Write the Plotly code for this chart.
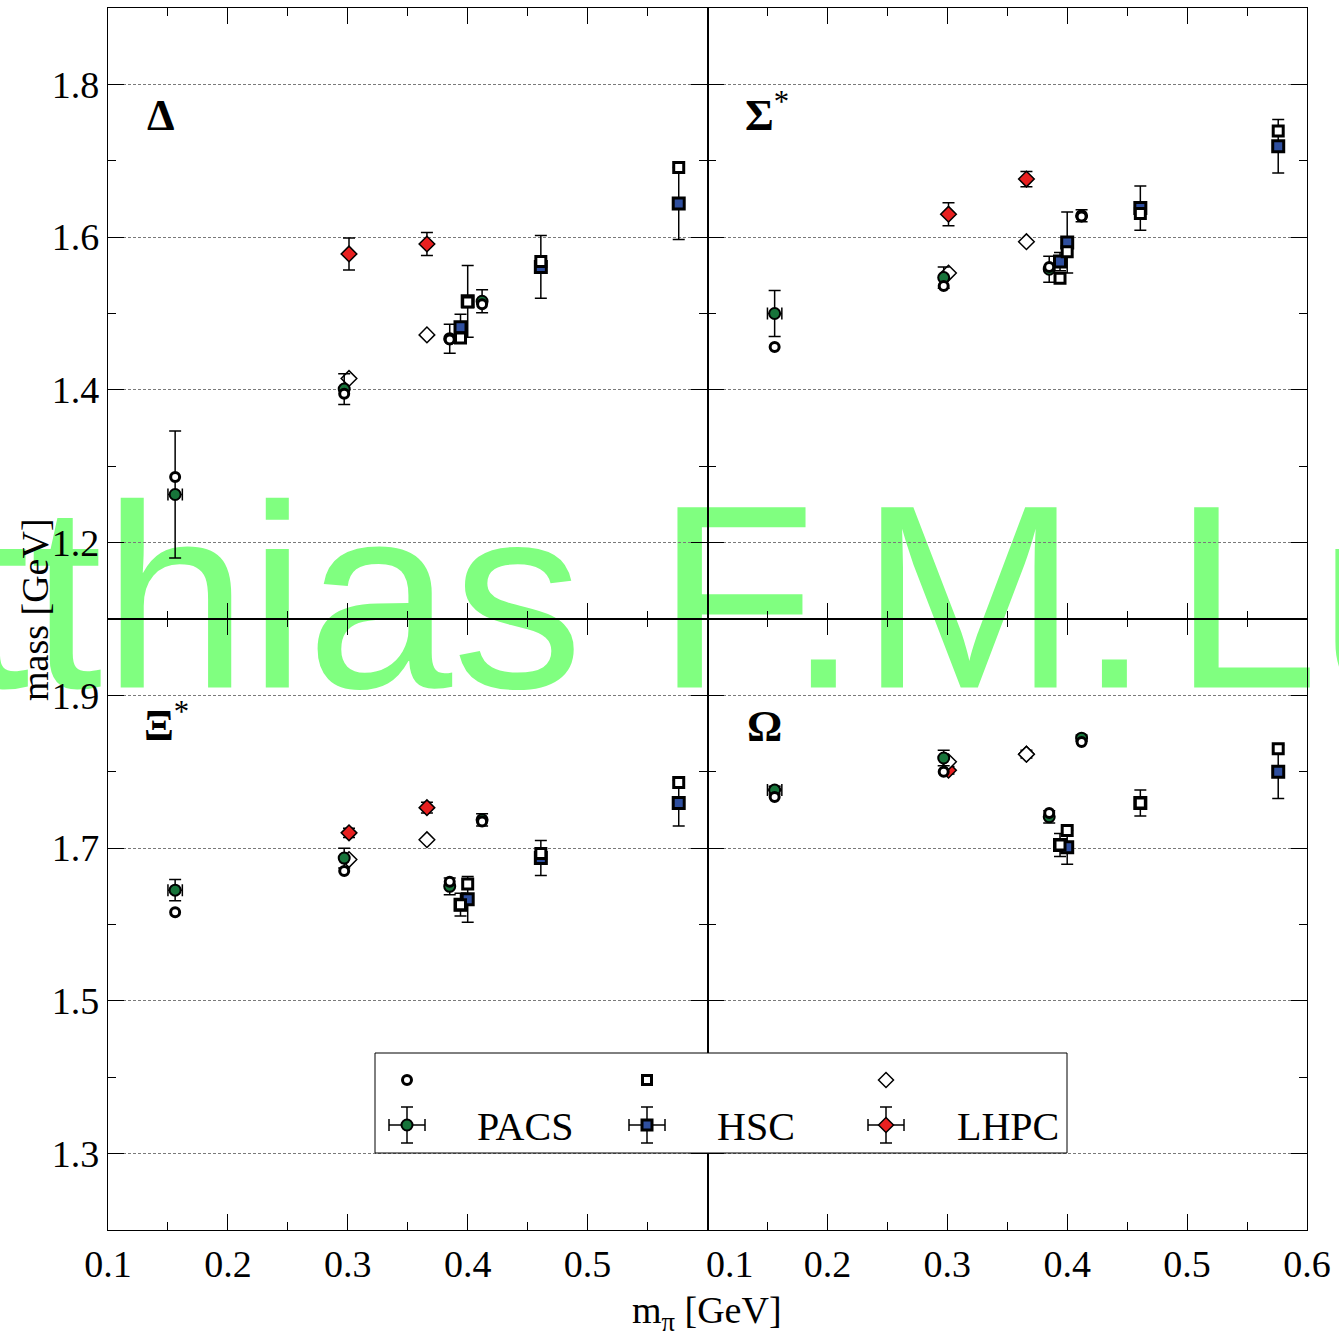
import plotly.graph_objects as go

# ---------------- data ----------------
pacs_m = [0.156, 0.297, 0.385, 0.412]
pacs_m_err = [0.006, None, None, None]
hsc_m = [0.394, 0.400, 0.461, 0.576]
lhpc_m = [0.301, 0.366]

# Delta
delta_pacs = [1.263, 1.401, 1.467, 1.516]
delta_pacs_err = [0.083, 0.020, 0.019, 0.015]
delta_pacs_fit = [1.286, 1.395, 1.466, 1.512]
delta_hsc = [1.482, 1.516, 1.561, 1.644]
delta_hsc_err = [0.017, 0.047, 0.041, 0.047]
delta_hsc_fit = [1.468, 1.515, 1.568, 1.691]
delta_lhpc = [1.578, 1.591]
delta_lhpc_err = [0.021, 0.015]
delta_lhpc_fit = [1.415, 1.472]

# Sigma*
sigma_pacs = [1.500, 1.547, 1.558, 1.628]
sigma_pacs_err = [0.030, 0.014, 0.017, 0.008]
sigma_pacs_fit = [1.456, 1.536, 1.561, 1.627]
sigma_hsc = [1.568, 1.593, 1.638, 1.719]
sigma_hsc_err = [0.012, 0.040, 0.029, 0.035]
sigma_hsc_fit = [1.546, 1.581, 1.631, 1.739]
sigma_lhpc = [1.630, 1.676]
sigma_lhpc_err = [0.015, 0.010]
sigma_lhpc_fit = [1.553, 1.594]

# Xi*
xi_pacs = [1.645, 1.687, 1.650, 1.737]
xi_pacs_err = [0.014, 0.013, 0.011, 0.008]
xi_pacs_fit = [1.616, 1.670, 1.656, 1.735]
xi_hsc = [1.626, 1.633, 1.687, 1.759]
xi_hsc_err = [0.015, 0.030, 0.023, 0.030]
xi_hsc_fit = [1.626, 1.653, 1.693, 1.786]
xi_lhpc = [1.720, 1.753]
xi_lhpc_err = [0.006, 0.007]
xi_lhpc_fit = [1.685, 1.711]

# Omega
omega_pacs = [1.776, 1.818, 1.741, 1.844]
omega_pacs_err = [0.005, 0.010, 0.008, 0.004]
omega_pacs_fit = [1.767, 1.800, 1.746, 1.839]
omega_hsc = [1.704, 1.701, 1.759, 1.800]
omega_hsc_err = [0.015, 0.022, 0.017, 0.035]
omega_hsc_fit = [1.704, 1.723, 1.759, 1.830]
omega_lhpc = [1.802, 1.823]
omega_lhpc_err = [0.005, 0.005]
omega_lhpc_fit = [1.813, 1.823]

panel_labels = ["<b>Δ</b>", "<b>Σ</b><sup>*</sup>", "<b>Ξ</b><sup>*</sup>", "<b>Ω</b>"]
x_ticks_left = [0.1, 0.2, 0.3, 0.4, 0.5]
x_ticks_right = [0.2, 0.3, 0.4, 0.5, 0.6]
x_minor = [0.15, 0.25, 0.35, 0.45, 0.55]
legend_names = ["PACS", "HSC", "LHPC"]
watermark = "Matthias F.M.\u200aLutz"

# ---------------- style ----------------
SERIF = "Liberation Serif"
GREEN = "#17743a"
BLUE = "#2f4f9f"
RED = "#e82020"

W, H = 1339, 1337
L, R, T, B = 108, 32, 8, 107
PW, PH = W - L - R, H - T - B


def px(x):
    return (x - L) / PW


def py(y):
    return (H - B - y) / PH


fig = go.Figure()

panels = [
    ("x", "y", delta_pacs, delta_pacs_err, delta_pacs_fit, delta_hsc, delta_hsc_err, delta_hsc_fit,
     delta_lhpc, delta_lhpc_err, delta_lhpc_fit),
    ("x2", "y2", sigma_pacs, sigma_pacs_err, sigma_pacs_fit, sigma_hsc, sigma_hsc_err, sigma_hsc_fit,
     sigma_lhpc, sigma_lhpc_err, sigma_lhpc_fit),
    ("x3", "y3", xi_pacs, xi_pacs_err, xi_pacs_fit, xi_hsc, xi_hsc_err, xi_hsc_fit,
     xi_lhpc, xi_lhpc_err, xi_lhpc_fit),
    ("x4", "y4", omega_pacs, omega_pacs_err, omega_pacs_fit, omega_hsc, omega_hsc_err, omega_hsc_fit,
     omega_lhpc, omega_lhpc_err, omega_lhpc_fit),
]


def err(arr):
    return dict(type="data", array=arr, color="black", thickness=1.5, width=6, visible=True)


for (xa, ya, p, pe, pf, h, he, hf, l, le, lf) in panels:
    # LHPC
    fig.add_trace(go.Scatter(x=lhpc_m, y=l, mode="markers", xaxis=xa, yaxis=ya, error_y=err(le),
                             marker=dict(symbol="diamond", size=12, color=RED, line=dict(color="black", width=1.5)),
                             showlegend=False))
    fig.add_trace(go.Scatter(x=lhpc_m, y=lf, mode="markers", xaxis=xa, yaxis=ya,
                             marker=dict(symbol="diamond", size=12, color="white", line=dict(color="black", width=1.5)),
                             showlegend=False))
    # PACS
    fig.add_trace(go.Scatter(x=pacs_m, y=p, mode="markers", xaxis=xa, yaxis=ya, error_y=err(pe),
                             error_x=err(pacs_m_err),
                             marker=dict(symbol="circle", size=11, color=GREEN, line=dict(color="black", width=2)),
                             showlegend=False))
    fig.add_trace(go.Scatter(x=pacs_m, y=pf, mode="markers", xaxis=xa, yaxis=ya,
                             marker=dict(symbol="circle", size=9, color="white", line=dict(color="black", width=3)),
                             showlegend=False))
    # HSC
    fig.add_trace(go.Scatter(x=hsc_m, y=h, mode="markers", xaxis=xa, yaxis=ya, error_y=err(he),
                             marker=dict(symbol="square", size=11, color=BLUE, line=dict(color="black", width=3)),
                             showlegend=False))
    fig.add_trace(go.Scatter(x=hsc_m, y=hf, mode="markers", xaxis=xa, yaxis=ya,
                             marker=dict(symbol="square", size=10, color="white", line=dict(color="black", width=3)),
                             showlegend=False))

tickfont = dict(family=SERIF, size=38, color="black")
LW = 1.2
common_x = dict(range=[0.1, 0.6], showline=True, linecolor="black", linewidth=LW, mirror="ticks",
                ticks="inside", ticklen=16, tickwidth=1.3, tickcolor="black", showgrid=False, zeroline=False,
                tickfont=tickfont,
                minor=dict(tickvals=x_minor, ticks="inside", ticklen=8, tickwidth=1.3, tickcolor="black",
                           showgrid=False))
common_y = dict(showline=True, linecolor="black", linewidth=LW, mirror="ticks",
                ticks="inside", ticklen=16, tickwidth=1.3, tickcolor="black", showgrid=True,
                gridcolor="#7a7a7a", gridwidth=1, griddash="3px,2px", zeroline=False, tickfont=tickfont,
                dtick=0.2, tickformat=".1f",
                minor=dict(dtick=0.1, ticks="inside", ticklen=8, tickwidth=1.3, tickcolor="black", showgrid=False))

fig.update_layout(
    width=W, height=H,
    margin=dict(l=L, r=R, t=T, b=B),
    paper_bgcolor="white", plot_bgcolor="white",
    showlegend=False,
    xaxis=dict(common_x, domain=[0, 0.5], anchor="y", tickvals=x_ticks_left, showticklabels=False),
    xaxis2=dict(common_x, domain=[0.5, 1], anchor="y2", tickvals=x_ticks_right, showticklabels=False),
    xaxis3=dict(common_x, domain=[0, 0.5], anchor="y3", tickvals=x_ticks_left, showticklabels=True),
    xaxis4=dict(common_x, domain=[0.5, 1], anchor="y4", tickvals=x_ticks_right, showticklabels=True),
    yaxis=dict(common_y, domain=[0.5, 1], anchor="x", range=[1.1, 1.9], tick0=1.2,
               minor=dict(common_y["minor"], tick0=1.1)),
    yaxis2=dict(common_y, domain=[0.5, 1], anchor="x2", range=[1.1, 1.9], tick0=1.2, showticklabels=False,
                minor=dict(common_y["minor"], tick0=1.1)),
    yaxis3=dict(common_y, domain=[0, 0.5], anchor="x3", range=[1.2, 2.0], tick0=1.3,
                minor=dict(common_y["minor"], tick0=1.2)),
    yaxis4=dict(common_y, domain=[0, 0.5], anchor="x4", range=[1.2, 2.0], tick0=1.3, showticklabels=False,
                minor=dict(common_y["minor"], tick0=1.2)),
)

shapes = []
annotations = []

# watermark (behind everything)
shapes.append(dict(type="rect", xref="paper", yref="paper", layer="below",
                   x0=px(-410), x1=px(1900), y0=py(612), y1=py(532),
                   line=dict(width=0), fillcolor="rgba(0,0,0,0)",
                   label=dict(text=watermark, textposition="middle left", padding=0,
                              font=dict(family="Liberation Sans", size=262, color="#80ff80"))))

# panel labels
for txt, (x, y) in zip(panel_labels, [(161, 116), (767, 112), (166, 722), (764, 726)]):
    annotations.append(dict(text=txt, xref="paper", yref="paper", x=px(x), y=py(y), showarrow=False,
                            xanchor="center", yanchor="middle",
                            font=dict(family=SERIF, size=44, color="black")))

# axis titles
annotations.append(dict(text="mass [GeV]", xref="paper", yref="paper", x=px(35), y=py(610), textangle=-90,
                        showarrow=False, xanchor="center", yanchor="middle",
                        font=dict(family=SERIF, size=38, color="black")))
annotations.append(dict(text="m<sub>π</sub> [GeV]", xref="paper", yref="paper", x=px(707), y=py(1313),
                        showarrow=False, xanchor="center", yanchor="middle",
                        font=dict(family=SERIF, size=38, color="black")))
# shifted 0.1 label of right panel
annotations.append(dict(text="0.1", xref="paper", yref="paper", x=px(730), y=py(1264),
                        showarrow=False, xanchor="center", yanchor="middle", font=tickfont))

# legend box
shapes.append(dict(type="rect", xref="paper", yref="paper", layer="above",
                   x0=px(375), x1=px(1067), y0=py(1153), y1=py(1053),
                   line=dict(color="black", width=1), fillcolor="white"))

leg_x = [407, 647, 886]
leg_fill = [GREEN, BLUE, RED]
leg_text_x = [475, 715, 955]
y1r, y2r = 1080, 1125


def line(x0, y0, x1, y1, w=1.5):
    return dict(type="line", xref="paper", yref="paper", layer="above",
                x0=px(x0), y0=py(y0), x1=px(x1), y1=py(y1), line=dict(color="black", width=w))


for i, cx in enumerate(leg_x):
    # open symbol (row 1)
    if i == 0:
        shapes.append(dict(type="circle", xref="paper", yref="paper", layer="above",
                           x0=px(cx - 4.5), x1=px(cx + 4.5), y0=py(y1r + 4.5), y1=py(y1r - 4.5),
                           line=dict(color="black", width=3), fillcolor="white"))
    elif i == 1:
        shapes.append(dict(type="rect", xref="paper", yref="paper", layer="above",
                           x0=px(cx - 4.5), x1=px(cx + 4.5), y0=py(y1r + 4.5), y1=py(y1r - 4.5),
                           line=dict(color="black", width=3), fillcolor="white"))
    else:
        d = 7.5
        path = "M {},{} L {},{} L {},{} L {},{} Z".format(px(cx - d), py(y1r), px(cx), py(y1r - d),
                                                          px(cx + d), py(y1r), px(cx), py(y1r + d))
        shapes.append(dict(type="path", xref="paper", yref="paper", layer="above", path=path,
                           line=dict(color="black", width=1.5), fillcolor="white"))
    # error bars (row 2)
    shapes.append(line(cx, y2r - 18, cx, y2r + 18))
    shapes.append(line(cx - 6, y2r - 18, cx + 6, y2r - 18))
    shapes.append(line(cx - 6, y2r + 18, cx + 6, y2r + 18))
    shapes.append(line(cx - 18, y2r, cx + 18, y2r))
    shapes.append(line(cx - 18, y2r - 6, cx - 18, y2r + 6))
    shapes.append(line(cx + 18, y2r - 6, cx + 18, y2r + 6))
    if i == 0:
        shapes.append(dict(type="circle", xref="paper", yref="paper", layer="above",
                           x0=px(cx - 5.5), x1=px(cx + 5.5), y0=py(y2r + 5.5), y1=py(y2r - 5.5),
                           line=dict(color="black", width=2), fillcolor=leg_fill[i]))
    elif i == 1:
        shapes.append(dict(type="rect", xref="paper", yref="paper", layer="above",
                           x0=px(cx - 5), x1=px(cx + 5), y0=py(y2r + 5), y1=py(y2r - 5),
                           line=dict(color="black", width=3), fillcolor=leg_fill[i]))
    else:
        d = 7.5
        path = "M {},{} L {},{} L {},{} L {},{} Z".format(px(cx - d), py(y2r), px(cx), py(y2r - d),
                                                          px(cx + d), py(y2r), px(cx), py(y2r + d))
        shapes.append(dict(type="path", xref="paper", yref="paper", layer="above", path=path,
                           line=dict(color="black", width=1.5), fillcolor=leg_fill[i]))
    annotations.append(dict(text=legend_names[i], xref="paper", yref="paper", x=px(leg_text_x[i]), y=py(y2r + 1),
                            showarrow=False, xanchor="left", yanchor="middle",
                            font=dict(family=SERIF, size=40, color="black")))

fig.update_layout(shapes=shapes, annotations=annotations)
fig.write_html("out.html", config={"displayModeBar": False},
               post_script="document.body.style.margin='0';document.body.style.overflow='hidden';")
